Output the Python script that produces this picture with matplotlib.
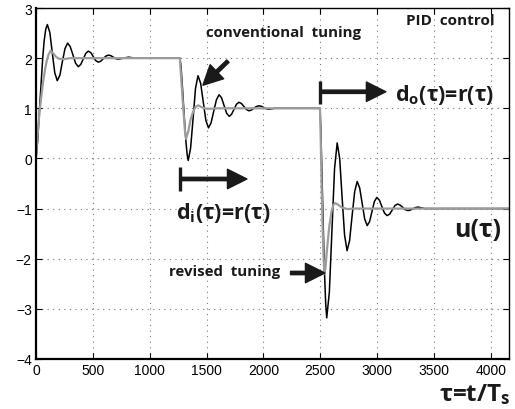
import numpy as np
import matplotlib
matplotlib.use('Agg')
import matplotlib.pyplot as plt

plt.rcParams['font.family'] = ['Liberation Sans', 'DejaVu Sans']
plt.rcParams['mathtext.fontset'] = 'custom'
plt.rcParams['mathtext.rm'] = 'Open Sans:bold'
plt.rcParams['mathtext.it'] = 'Open Sans:bold'
plt.rcParams['mathtext.bf'] = 'Open Sans:bold'

# conventional tuning (black)
t_conv = [0, 15, 30, 45, 59, 72, 86, 100, 122, 143, 165, 187, 210, 232, 255, 278,
          301, 325, 348, 372, 394, 416, 438, 460, 482, 504, 526, 548, 570, 592, 614, 636,
          658, 680, 702, 724, 747, 770, 792, 815, 870, 1000, 1265,
          1275, 1290, 1305, 1320, 1330, 1339, 1360, 1382, 1403, 1425, 1448, 1471, 1494, 1517,
          1540, 1563, 1587, 1610, 1632, 1654, 1677, 1699, 1720, 1742, 1763, 1785,
          1807, 1829, 1851, 1873, 1895, 1916, 1938, 1960, 1982, 2003, 2025, 2047, 2100, 2498,
          2505, 2515, 2527, 2538, 2548, 2557, 2580, 2603, 2626, 2649, 2671, 2692, 2714, 2736,
          2758, 2780, 2803, 2825, 2847, 2869, 2891, 2913, 2934, 2955, 2976, 2997,
          3020, 3042, 3065, 3088, 3111, 3134, 3157, 3180, 3202, 3225, 3247, 3270,
          3292, 3315, 3337, 3360, 3420, 4160]
u_conv = [0, 0.35, 0.95, 1.5, 2.0, 2.35, 2.58, 2.67, 2.51, 2.11, 1.71, 1.55, 1.66, 1.93, 2.19, 2.30,
          2.23, 2.065, 1.90, 1.83, 1.875, 1.985, 2.095, 2.14, 2.11, 2.03, 1.95, 1.92, 1.94, 1.99, 2.04, 2.06,
          2.05, 2.02, 1.99, 1.98, 1.99, 2.0, 2.01, 2.02, 2.0, 2.0, 2.0,
          1.85, 1.35, 0.8, 0.3, 0.07, -0.04, 0.21, 0.805, 1.40, 1.65, 1.50, 1.13, 0.76, 0.61,
          0.71, 0.94, 1.17, 1.27, 1.21, 1.055, 0.90, 0.84, 0.88, 0.98, 1.08, 1.12,
          1.095, 1.035, 0.975, 0.95, 0.965, 1.0, 1.035, 1.05, 1.04, 1.015, 0.99, 0.98, 1.0, 1.0,
          0.6, -0.3, -1.4, -2.3, -2.9, -3.18, -2.67, -1.435, -0.20, 0.31, 0.0, -0.765, -1.53, -1.84,
          -1.64, -1.15, -0.66, -0.46, -0.59, -0.90, -1.21, -1.34, -1.26, -1.06, -0.86, -0.78,
          -0.83, -0.96, -1.09, -1.14, -1.11, -1.025, -0.94, -0.91, -0.93, -0.975, -1.02, -1.04,
          -1.03, -1.005, -0.98, -0.97, -1.0, -1.0]

# revised tuning (gray)
t_rev = [0, 6, 20, 35, 50, 64, 80, 95, 110, 129, 150, 175, 200, 240, 300, 1265,
         1280, 1295, 1310, 1320, 1340, 1360, 1385, 1405, 1427, 1450, 1480, 1520, 1600, 2498,
         2505, 2512, 2520, 2528, 2536, 2545, 2560, 2580, 2600, 2615, 2632, 2655, 2690, 2740, 2800, 4160]
u_rev = [0, 0.23, 0.65, 1.0, 1.3, 1.55, 1.78, 1.95, 2.07, 2.15, 2.1, 2.03, 1.99, 1.98, 2.0, 2.0,
         1.5, 1.0, 0.55, 0.39, 0.55, 0.78, 0.95, 1.03, 1.06, 1.03, 1.0, 0.99, 1.0, 1.0,
         0.3, -0.5, -1.3, -1.9, -2.3, -2.2, -1.8, -1.35, -1.05, -0.93, -0.89, -0.92, -0.98, -1.01, -1.0, -1.0]

xticks = [0, 500, 1000, 1500, 2000, 2500, 3000, 3500, 4000]
yticks = [-4, -3, -2, -1, 0, 1, 2, 3]

fig = plt.figure(figsize=(5.15, 4.10), dpi=100)
ax = fig.add_axes([0.0699, 0.122, 0.9184, 0.856])

ax.plot(t_conv, u_conv, color='black', lw=1.1)
ax.plot(t_rev, u_rev, color='#9c9c9c', lw=1.6)

ax.set_xlim(0, 4160)
ax.set_ylim(-4, 3)
ax.set_xticks(xticks)
ax.set_yticks(yticks)
ax.grid(True, color='#777777', linestyle=(0, (1, 4)), lw=0.8)
ax.tick_params(direction='in', length=4, top=True, right=True, labelsize=10, pad=3)
for s in ['left', 'bottom']:
    ax.spines[s].set_linewidth(1.6)
for s in ['top', 'right']:
    ax.spines[s].set_linewidth(1.0)

bold = dict(family='Open Sans', fontweight='bold', color='#1a1a1a')
ax.text(3648, 2.76, 'PID  control', ha='center', va='center', fontsize=11, **bold)
ax.text(2176, 2.52, 'conventional  tuning', ha='center', va='center', fontsize=10.8, **bold)
ax.text(1657, -2.24, 'revised  tuning', ha='center', va='center', fontsize=10.8, **bold)
ax.text(3596, 1.28, 'd$_\\mathrm{o}$(τ)=r(τ)', ha='center', va='center', fontsize=15.5, **bold)
ax.text(1644, -1.07, 'd$_\\mathrm{i}$(τ)=r(τ)', ha='center', va='center', fontsize=15.5, **bold)
ax.text(3886, -1.41, 'u(τ)', ha='center', va='center', fontsize=18, **bold)
fig.text(0.922, 0.038, 'τ=t/T$_\\mathrm{s}$', ha='center', va='center', fontsize=17.5, **bold)

arr = dict(facecolor='#1a1a1a', edgecolor='#1a1a1a', width=2.4, headwidth=14, headlength=14, shrink=0)
ax.annotate('', xy=(1468, 1.46), xytext=(1688, 1.94), arrowprops=arr)
ax.annotate('', xy=(2541, -2.285), xytext=(2239, -2.285), arrowprops=arr)
ax.annotate('', xy=(3077, 1.33), xytext=(2498, 1.33), arrowprops=arr)
ax.annotate('', xy=(1855, -0.41), xytext=(1266, -0.41), arrowprops=arr)
ax.plot([2498, 2498], [1.09, 1.55], color='#1a1a1a', lw=2.4, solid_capstyle='butt')
ax.plot([1266, 1266], [-0.17, -0.65], color='#1a1a1a', lw=2.4, solid_capstyle='butt')

fig.savefig('out.png', dpi=100)
